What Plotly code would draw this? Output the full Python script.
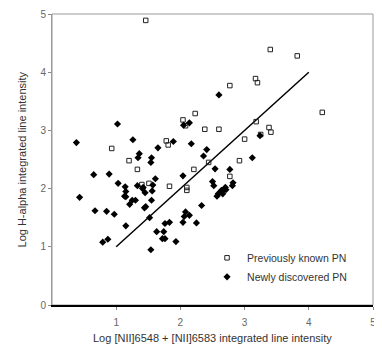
import plotly.graph_objects as go

# Previously known PN (open squares)
known_x = [1.46, 0.93, 1.20, 1.78, 1.81, 2.04, 2.08, 2.23, 2.38, 2.44, 3.40, 3.82, 3.17, 3.20, 2.77, 4.21,
           2.60, 3.18, 3.38, 3.41, 3.25, 3.00, 2.92, 1.33, 1.51, 1.40, 1.83, 2.21, 2.10, 2.10, 2.77]
known_y = [4.89, 2.69, 2.48, 2.82, 2.75, 3.18, 3.08, 3.29, 3.02, 2.45, 4.39, 4.28, 3.89, 3.82, 3.77, 3.31,
           3.02, 3.15, 3.05, 2.97, 2.93, 2.85, 2.48, 2.33, 2.09, 2.07, 2.04, 2.33, 2.02, 1.97, 2.21]

# Newly discovered PN (filled diamonds)
new_x = [0.38, 1.02, 1.26, 1.36, 1.34, 1.55, 1.54, 1.65, 1.89, 2.05, 2.14, 2.17, 2.41, 2.36, 2.60, 3.24, 3.12,
         0.65, 0.89, 1.61, 1.03, 1.33, 1.14, 1.42, 1.57, 1.41, 2.04, 0.43, 1.15, 1.13, 1.15, 1.45, 1.56,
         1.25, 1.30, 1.55, 1.21, 1.46, 1.44, 0.67, 0.85, 0.97, 2.33, 2.08, 2.06, 2.14, 1.52, 2.04, 1.83,
         1.76, 2.25, 1.15, 1.63, 1.74, 1.72, 1.76, 0.87, 0.79, 1.93, 1.54,
         2.54, 2.77, 2.50, 2.52, 2.82, 2.81, 2.70, 2.68, 2.71, 2.64, 2.62, 2.66, 2.59, 2.57]
new_y = [2.79, 3.11, 2.84, 2.60, 2.53, 2.53, 2.45, 2.70, 2.81, 3.09, 3.13, 2.77, 2.67, 2.56, 3.61, 2.91, 2.53,
         2.24, 2.25, 2.17, 2.09, 2.05, 2.03, 2.02, 2.06, 2.00, 2.22, 1.85, 1.95, 1.87, 1.86, 1.93, 1.96,
         1.80, 1.80, 1.80, 1.73, 1.69, 1.67, 1.62, 1.61, 1.56, 1.71, 1.60, 1.52, 1.54, 1.50, 1.42, 1.42,
         1.40, 1.41, 1.36, 1.26, 1.26, 1.14, 1.14, 1.13, 1.08, 1.09, 0.95,
         2.34, 2.33, 2.12, 2.05, 2.10, 2.05, 2.02, 1.99, 1.98, 1.97, 1.94, 1.91, 1.91, 1.87]

# Reference line (y = x)
line_x = [1, 4]
line_y = [1, 4]

x_ticks = [1, 2, 3, 4, 5]
y_ticks = [0, 1, 2, 3, 4, 5]

x_title = "Log [NII]6548 + [NII]6583 integrated line intensity"
y_title = "Log H-alpha integrated line intensity"

FONT = "Arial, 'Liberation Sans', sans-serif"

fig = go.Figure()
fig.add_trace(go.Scatter(x=line_x, y=line_y, mode="lines", showlegend=False,
                         line=dict(color="black", width=1.5), hoverinfo="skip"))
fig.add_trace(go.Scatter(x=known_x, y=known_y, mode="markers", name="Previously known PN",
                         marker=dict(symbol="square-open", size=4.5, color="#222",
                                     line=dict(width=1, color="#222"))))
fig.add_trace(go.Scatter(x=new_x, y=new_y, mode="markers", name="Newly discovered PN",
                         marker=dict(symbol="diamond", size=5.5, color="black",
                                     line=dict(width=0))))

# page body has an 8px default margin, so the figure is sized to fit the window
fig.update_layout(
    width=374, height=349,
    margin=dict(l=44, r=9, t=0, b=52),
    paper_bgcolor="white", plot_bgcolor="white",
    font=dict(family=FONT, size=10, color="#333"),
    legend=dict(x=0.483, y=0.212, xanchor="left", yanchor="top",
                bgcolor="rgba(0,0,0,0)", font=dict(size=10.5, color="#333"),
                itemsizing="trace", tracegroupgap=0),
    shapes=[dict(type="rect", xref="paper", yref="paper", x0=0, y0=0, x1=1, y1=1,
                 line=dict(color="#999", width=1), layer="below")],
    annotations=[
        dict(text=x_title, xref="paper", yref="paper", x=0.5, y=-0.1145,
             xanchor="center", yanchor="middle", showarrow=False,
             font=dict(size=11, color="#333")),
        dict(text=y_title, xref="paper", yref="paper", x=-0.0935, y=0.5,
             xanchor="center", yanchor="middle", showarrow=False, textangle=-90,
             font=dict(size=11, color="#333")),
    ],
)
fig.update_xaxes(range=[0, 5], tickvals=x_ticks, ticktext=[str(v) for v in x_ticks],
                 showgrid=False, zeroline=False, showline=True, linecolor="black", linewidth=2,
                 ticks="outside", ticklen=3, tickcolor="#888", ticklabelstandoff=4,
                 ticklabeloverflow="allow",
                 tickfont=dict(size=10, color="#666"))
fig.update_yaxes(range=[0, 5], tickvals=y_ticks, ticktext=[str(v) for v in y_ticks],
                 showgrid=False, zeroline=False, showline=True, linecolor="#999", linewidth=1,
                 ticks="outside", ticklen=3, tickcolor="#888",
                 ticklabeloverflow="allow",
                 tickfont=dict(size=10, color="#666"))

fig.write_html("out.html")
